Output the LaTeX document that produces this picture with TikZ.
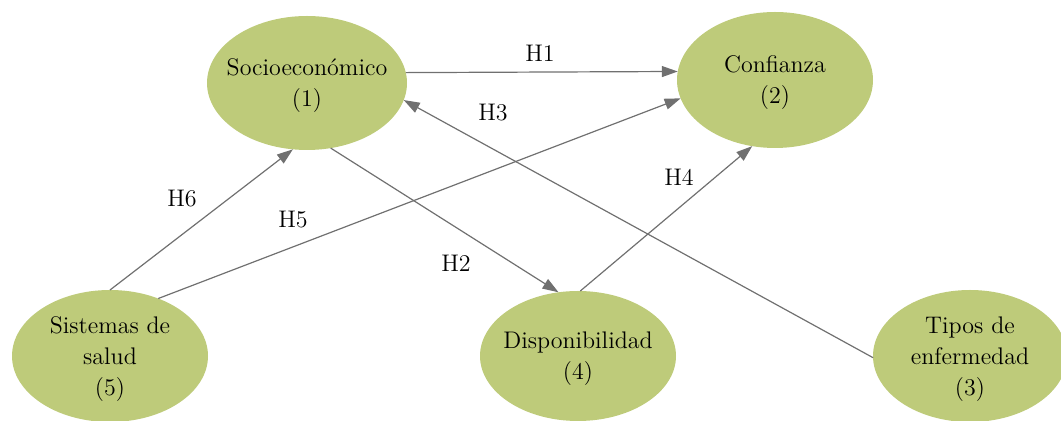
\documentclass[tikz,border=0pt]{standalone}
\usetikzlibrary{shapes.geometric,arrows.meta,positioning}
\definecolor{varfill}{RGB}{190,203,122}
\definecolor{linkgray}{RGB}{112,112,112}
\tikzset{
  var/.style={ellipse,fill=varfill,inner sep=0pt,outer sep=0pt,minimum width=98pt,minimum height=67pt},
  vartext/.style={align=center,yshift=-1.5pt,font=\fontsize{12}{15.5}\selectfont},
  hyp/.style={font=\large},
  link/.style={draw,color=linkgray,line width=0.6pt,-{Triangle[length=8pt,width=5.5pt]}}
}

\begin{document}
\begin{tikzpicture}[x=0.5pt,y=-0.5pt]
  \useasboundingbox (0,0) rectangle (1061,421);
  % variables
  \node[var,minimum width=100pt,label={[vartext]center:{Socioecon\'omico\\(1)}}] (soc) at (307,83) {};
  \node[var,minimum height=68pt,label={[vartext]center:{Confianza\\(2)}}] (conf) at (775,80) {};
  \node[var,minimum height=66pt,label={[vartext]center:{Sistemas de\\salud\\(5)}}] (sis) at (110,356) {};
  \node[var,minimum height=65pt,label={[vartext]center:{Disponibilidad\\(4)}}] (disp) at (578,356) {};
  \node[var,minimum width=97pt,minimum height=66pt,label={[vartext]center:{Tipos de\\enfermedad\\(3)}}] (tipos) at (970,356) {};
  % hypotheses
  \path[every edge/.style={link}]
    (soc.6) edge (conf.175)
    (soc.290) edge (disp.107)
    (tipos.181) edge (soc.-10)
    (disp.88) edge (conf.251)
    (sis.50) edge (conf.191)
    (sis.90) edge (soc.258);
  \node[hyp] (h1) at (540,53) {H1};
  \node[hyp] (h2) at (456,263) {H2};
  \node[hyp] (h3) at (493,113) {H3};
  \node[hyp] (h4) at (679,177) {H4};
  \node[hyp] (h5) at (293,220) {H5};
  \node[hyp] (h6) at (182,199) {H6};
\end{tikzpicture}
\end{document}
